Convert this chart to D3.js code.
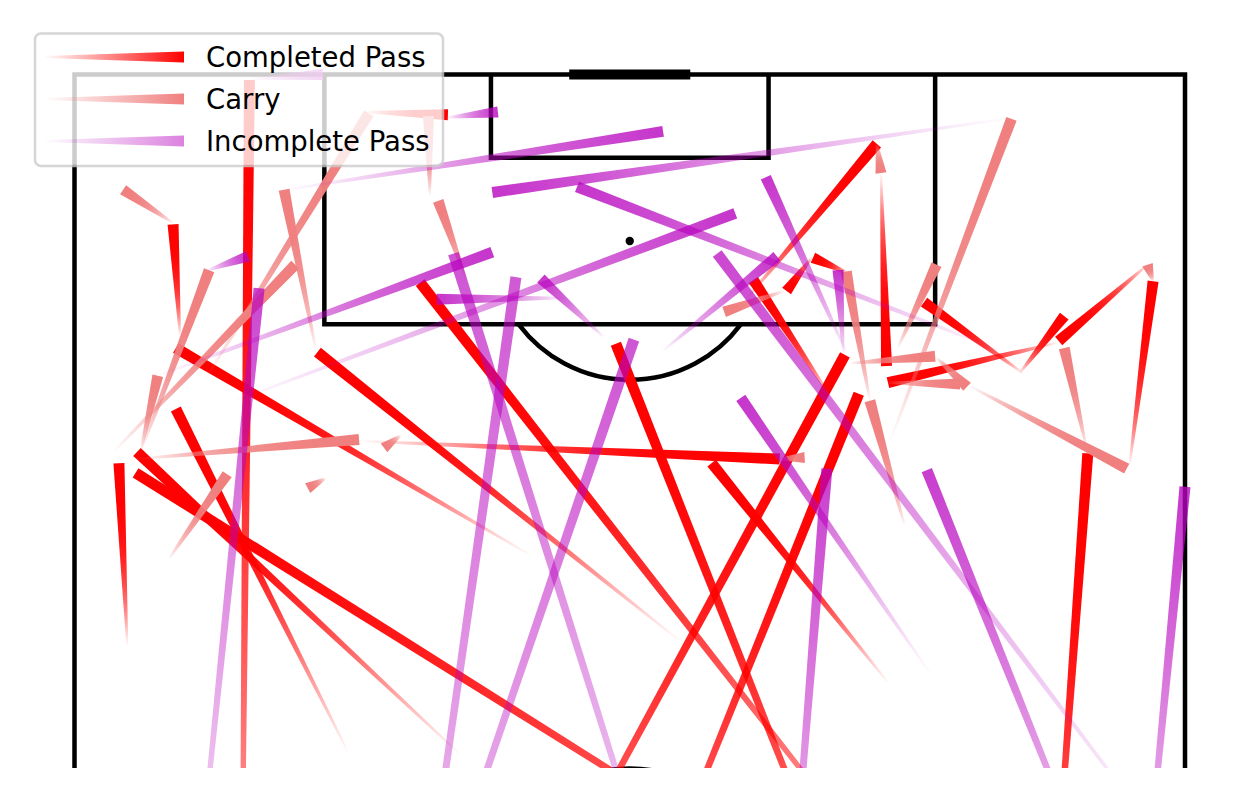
<!DOCTYPE html>
<html>
<head>
<meta charset="utf-8">
<script src="https://cdn.jsdelivr.net/npm/d3@7"></script>
<style>
  html, body { margin: 0; padding: 0; background: #ffffff; }
  svg { display: block; font-family: "DejaVu Sans", sans-serif; }
</style>
</head>
<body>
<div id="chart"></div>
<script>
// Pitch coordinates (StatsBomb): x = length (attacking goal line at 120), y = width (0 left .. 80 right)

// Completed passes
const passX    = [40.9, 101.2, 85.4, 79.2, 49.5, 39.5, 40.3, 43.0, 76.2, 93.6, 47.3, 91.8, 71.2, 71.0, 44.2, 78.9, 117.3, 103.7, 112.9, 106.8, 105.7, 96.9, 100.7, 98.5, 98.5, 106.3];
const passY    = [11.9, 7.6, 32.8, 43.6, 68.3, 63.2, 23.1, 34.7, 58.6, 20.6, 69.7, 76.0, 19.7, 27.8, 79.6, 3.8, 21.0, 48.3, 58.1, 53.1, 55.7, 54.4, 70.9, 68.3, 68.1, 77.3];
const passEndX = [119.6, 109.2, 100.3, 100.0, 105.0, 100.6, 99.8, 97.0, 92.0, 92.3, 92.7, 105.1, 95.9, 92.8, 91.3, 92.0, 117.1, 115.0, 99.0, 104.4, 106.8, 105.2, 97.8, 103.6, 102.6, 100.8];
const passEndY = [12.6, 7.1, 7.3, 17.5, 24.9, 39.0, 55.5, 56.5, 45.9, 50.8, 73.0, 77.7, 7.3, 4.5, 4.4, 3.2, 26.9, 57.8, 58.5, 51.3, 53.2, 48.9, 58.6, 61.2, 71.3, 70.9];

// Carries
const carryX    = [109.3, 100.1, 92.9, 93.0, 92.8, 85.1, 90.9, 94.0, 92.3, 105.3, 111.3, 98.0, 93.7, 100.3, 115.0, 104.4, 96.5, 87.5, 99.2, 99.6, 97.8, 97.6, 105.1, 93.1, 92.3];
const carryY    = [7.1, 17.4, 4.8, 4.8, 2.8, 6.8, 18.1, 23.5, 4.5, 28.2, 25.6, 9.4, 58.8, 59.3, 57.8, 51.1, 57.3, 59.8, 55.9, 62.1, 58.6, 64.4, 77.7, 72.9, 50.8];
const carryEndX = [111.7, 111.7, 105.9, 98.3, 106.3, 91.2, 90.2, 93.1, 93.7, 110.9, 117.0, 117.2, 116.8, 106.3, 112.9, 102.9, 105.8, 96.5, 99.7, 97.5, 97.7, 91.6, 106.3, 100.3, 92.4];
const carryEndY = [3.5, 15.1, 9.7, 6.0, 15.9, 11.0, 16.8, 22.3, 20.5, 26.2, 25.5, 21.2, 67.5, 62.1, 58.1, 46.8, 55.6, 57.3, 62.0, 64.3, 63.8, 75.8, 77.3, 71.3, 52.6];

// Incomplete passes
const missX    = [119.7, 105.9, 111.7, 49.7, 116.9, 98.3, 96.5, 103.9, 39.7, 26.8, 32.4, 101.1, 116.8, 100.0, 100.1, 63.1, 76.9, 48.6, 49.8, 43.7, 99.8, 99.9];
const missY    = [12.8, 9.6, 15.2, 7.7, 26.9, 6.0, 11.6, 35.4, 48.5, 20.6, 16.9, 38.1, 67.0, 67.0, 42.4, 79.6, 61.6, 78.7, 76.1, 50.4, 55.7, 55.4];
const missEndX = [120.0, 106.9, 115.9, 104.6, 117.3, 107.2, 110.0, 103.8, 107.1, 105.4, 100.9, 105.3, 111.5, 111.9, 106.9, 107.1, 96.7, 91.5, 90.3, 91.6, 112.6, 105.9];
const missEndY = [17.9, 12.5, 42.4, 13.3, 30.5, 30.1, 47.6, 26.1, 27.3, 31.8, 40.3, 33.6, 30.1, 36.2, 50.6, 46.3, 48.0, 61.4, 80.0, 54.2, 49.8, 55.0];

const legendLabels = ["Completed Pass", "Carry", "Incomplete Pass"];

/**
 * Pass map on a vertical half pitch, drawn with comet lines
 */
class PassMap
{
  constructor()
  {
    this._width = 1260;
    this._height = 788;

    // visible bottom edge of the axes
    this._bottom = 768;

    // pitch width (0..80) -> screen x, pitch length (120 at top) -> screen y
    this._x = d3.scaleLinear().domain([0, 80]).range([74.5, 1185]);
    this._y = d3.scaleLinear().domain([120, 60]).range([74.5, 907.3]);

    this._lineColor = "#000000";
    this._lineWidth = 4.5;

    this._svg = null;
    this._defs = null;
    this._gradId = 0;
  }

  /**
   * Tapered polygon with an opacity gradient along it (comet line)
   * boost: imitate the alpha build-up of overlapping short segments
   */
  _comet(g, x1, y1, x2, y2, style, boost)
  {
    const dx = x2 - x1, dy = y2 - y1;
    const len = Math.hypot(dx, dy) || 1;
    const nx = -dy / len, ny = dx / len;
    const w0 = style.w0 / 2, w1 = style.w1 / 2;
    const step = len / 100;

    const id = "cg" + (this._gradId++);
    const grad = this._defs.append("linearGradient")
      .attr("id", id)
      .attr("gradientUnits", "userSpaceOnUse")
      .attr("x1", x1).attr("y1", y1)
      .attr("x2", x2).attr("y2", y2);

    const fs = d3.range(0, 1.0001, 0.05);
    grad.selectAll("stop")
      .data(fs)
      .join("stop")
      .attr("offset", f => f)
      .attr("stop-color", style.color)
      .attr("stop-opacity", f => {
        const a = 0.01 + (style.alpha - 0.01) * f;
        if (!boost) return a;
        const w = style.w0 + (style.w1 - style.w0) * f;
        const k = Math.min(1 + w / step, 3);
        return 1 - Math.pow(1 - a, k);
      });

    const pts = [
      [x1 + nx * w0, y1 + ny * w0],
      [x2 + nx * w1, y2 + ny * w1],
      [x2 - nx * w1, y2 - ny * w1],
      [x1 - nx * w0, y1 - ny * w0]
    ];
    g.append("path")
      .attr("d", d3.line()(pts) + "Z")
      .attr("fill", `url(#${id})`);
  }

  _drawPitch(g)
  {
    const x = this._x, y = this._y;
    const st = sel => sel.attr("fill", "none")
      .attr("stroke", this._lineColor)
      .attr("stroke-width", this._lineWidth);

    // touchlines and goal line
    g.append("path")
      .attr("d", `M${x(0)},${y(60)} L${x(0)},${y(120)} L${x(80)},${y(120)} L${x(80)},${y(60)}`)
      .call(st);

    // penalty area and six yard box
    g.append("path")
      .attr("d", `M${x(18)},${y(120)} L${x(18)},${y(102)} L${x(62)},${y(102)} L${x(62)},${y(120)}`)
      .call(st);
    g.append("path")
      .attr("d", `M${x(30)},${y(120)} L${x(30)},${y(114)} L${x(50)},${y(114)} L${x(50)},${y(120)}`)
      .call(st);

    // penalty arc
    const r = x(10) - x(0);
    g.append("path")
      .attr("d", `M${x(32)},${y(102)} A${r},${r} 0 0 0 ${x(48)},${y(102)}`)
      .call(st);

    // centre circle (mostly off view)
    g.append("circle")
      .attr("cx", x(40)).attr("cy", y(60)).attr("r", r)
      .call(st);

    // penalty spot
    g.append("circle")
      .attr("cx", x(40)).attr("cy", y(108)).attr("r", 4.2)
      .attr("fill", this._lineColor);

    // goal
    g.append("line")
      .attr("x1", x(36)).attr("x2", x(44))
      .attr("y1", y(120)).attr("y2", y(120))
      .attr("stroke", this._lineColor)
      .attr("stroke-width", 10)
      .attr("stroke-linecap", "square");
  }

  _drawLines(g, xs, ys, xe, ye, style)
  {
    const lg = g.append("g");
    xs.forEach((_, i) => {
      this._comet(lg,
        this._x(ys[i]), this._y(xs[i]),
        this._x(ye[i]), this._y(xe[i]),
        style, true);
    });
  }

  _drawLegend(styles)
  {
    const lg = this._svg.append("g");

    lg.append("rect")
      .attr("x", 35).attr("y", 33.5)
      .attr("width", 408).attr("height", 132.5)
      .attr("rx", 6).attr("ry", 6)
      .attr("fill", "#ffffff")
      .attr("stroke", "#cccccc")
      .attr("stroke-width", 2.5)
      .attr("opacity", 0.8);

    legendLabels.forEach((label, i) => {
      const cy = 57 + i * 42;
      const s = Object.assign({}, styles[i], { alpha: styles[i].legendAlpha });
      this._comet(lg, 45, cy, 184, cy, s, false);

      lg.append("text")
        .attr("x", 206)
        .attr("y", cy + 10)
        .attr("font-size", "27.5px")
        .attr("fill", "#000000")
        .text(label);
    });
  }

  render()
  {
    this._svg = d3.select("#chart")
      .append("svg")
      .attr("width", this._width)
      .attr("height", this._height);

    this._defs = this._svg.append("defs");
    this._defs.append("clipPath").attr("id", "axes-clip")
      .append("rect")
      .attr("x", 0).attr("y", 0)
      .attr("width", this._width).attr("height", this._bottom);

    const plot = this._svg.append("g").attr("clip-path", "url(#axes-clip)");

    const styles = [
      { color: "#ff0000", alpha: 1.0, legendAlpha: 1.0, w0: 2.0, w1: 11 },
      { color: "#f08080", alpha: 1.0, legendAlpha: 1.0, w0: 2.0, w1: 11 },
      { color: "#b805bf", alpha: 0.42, legendAlpha: 0.5, w0: 2.0, w1: 11 }
    ];

    this._drawPitch(plot.append("g"));
    this._drawLines(plot, passX, passY, passEndX, passEndY, styles[0]);
    this._drawLines(plot, carryX, carryY, carryEndX, carryEndY, styles[1]);
    this._drawLines(plot, missX, missY, missEndX, missEndY, styles[2]);

    this._drawLegend(styles);
  }
}

new PassMap().render();
</script>
</body>
</html>
